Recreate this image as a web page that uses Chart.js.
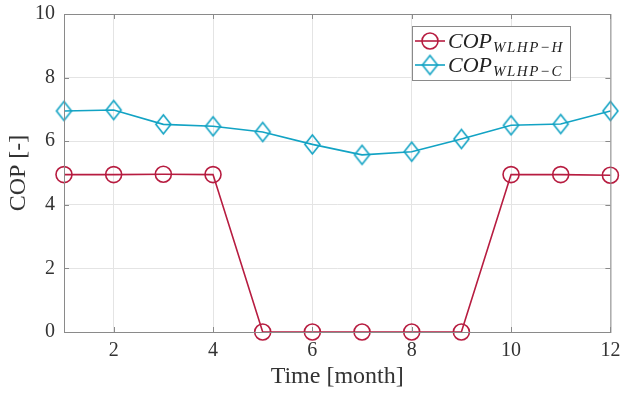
<!DOCTYPE html>
<html>
<head>
<meta charset="utf-8">
<script src="https://cdn.jsdelivr.net/npm/chart.js@4"></script>
<style>
  html, body { margin: 0; padding: 0; background: #fff; }
  #wrap { width: 621px; height: 393px; position: relative; }
</style>
</head>
<body>
<div id="wrap"><canvas id="copChart" width="621" height="393"></canvas></div>
<script>
// monthly COP of the water-loop heat pump, heating and cooling mode
const months = [1, 2, 3, 4, 5, 6, 7, 8, 9, 10, 11, 12];
const copHeating = [4.95, 4.95, 4.96, 4.95, 0, 0, 0, 0, 0, 4.95, 4.95, 4.93];
const copCooling = [6.95, 6.98, 6.53, 6.47, 6.29, 5.9, 5.57, 5.67, 6.07, 6.5, 6.54, 6.95];
const xTicks = [2, 4, 6, 8, 10, 12];
const yTicks = [0, 2, 4, 6, 8, 10];

const RED = '#b71c40';
const CYAN = '#12a3c4';
const SERIF = '"Liberation Serif", "DejaVu Serif", serif';

// matlab-style diamond, a bit taller than wide
function diamondMarker(w, h, color) {
  const c = document.createElement('canvas');
  c.width = w + 4; c.height = h + 4;
  const g = c.getContext('2d');
  const cx = c.width / 2, cy = c.height / 2;
  g.strokeStyle = color;
  g.lineWidth = 1.6;
  g.beginPath();
  g.moveTo(cx, cy - h / 2);
  g.lineTo(cx + w / 2, cy);
  g.lineTo(cx, cy + h / 2);
  g.lineTo(cx - w / 2, cy);
  g.closePath();
  g.stroke();
  return c;
}
const diamond = diamondMarker(15, 19, CYAN);

// box on + inward ticks on all four sides
const boxPlugin = {
  id: 'matlabBox',
  afterDatasetsDraw(chart) {
    const { ctx, chartArea: a, scales } = chart;
    ctx.save();
    ctx.strokeStyle = '#8a8a8a';
    ctx.lineWidth = 1;
    ctx.strokeRect(a.left + 0.5, a.top + 0.5, a.right - a.left, a.bottom - a.top);
    ctx.beginPath();
    xTicks.forEach(v => {
      const x = Math.round(scales.x.getPixelForValue(v)) + 0.5;
      ctx.moveTo(x, a.bottom); ctx.lineTo(x, a.bottom - 5);
      ctx.moveTo(x, a.top); ctx.lineTo(x, a.top + 5);
    });
    yTicks.forEach(v => {
      const y = Math.round(scales.y.getPixelForValue(v)) + 0.5;
      ctx.moveTo(a.left, y); ctx.lineTo(a.left + 5, y);
      ctx.moveTo(a.right, y); ctx.lineTo(a.right - 5, y);
    });
    ctx.stroke();
    ctx.restore();
  }
};

// legend with subscripted labels
const legendPlugin = {
  id: 'subLegend',
  afterDraw(chart) {
    const { ctx } = chart;
    const box = { x: 412, y: 26, w: 158, h: 54 };
    ctx.save();
    ctx.fillStyle = '#fff';
    ctx.fillRect(box.x, box.y, box.w, box.h);
    ctx.strokeStyle = '#8a8a8a';
    ctx.lineWidth = 1;
    ctx.strokeRect(box.x + 0.5, box.y + 0.5, box.w, box.h);

    const rows = [
      { y: 41, color: RED, sub: 'WLHP\u2212H', marker: 'circle' },
      { y: 65, color: CYAN, sub: 'WLHP\u2212C', marker: 'diamond' }
    ];
    rows.forEach(r => {
      ctx.strokeStyle = r.color;
      ctx.lineWidth = 1.6;
      ctx.beginPath();
      ctx.moveTo(415, r.y); ctx.lineTo(445, r.y);
      ctx.stroke();
      if (r.marker === 'circle') {
        ctx.beginPath();
        ctx.arc(430, r.y, 8, 0, Math.PI * 2);
        ctx.stroke();
      } else {
        ctx.drawImage(diamond, 430 - diamond.width / 2, r.y - diamond.height / 2);
      }
      ctx.fillStyle = '#222';
      ctx.textBaseline = 'alphabetic';
      ctx.font = 'italic 22px ' + SERIF;
      ctx.fillText('COP', 448, r.y + 7);
      const w = ctx.measureText('COP').width;
      ctx.font = 'italic 15px ' + SERIF;
      ctx.letterSpacing = '1.5px';
      ctx.fillText(r.sub, 448 + w + 1, r.y + 11);
      ctx.letterSpacing = '0px';
    });
    ctx.restore();
  }
};

new Chart(document.getElementById('copChart'), {
  type: 'line',
  data: {
    datasets: [
      {
        label: 'COP WLHP-H',
        data: months.map((m, i) => ({ x: m, y: copHeating[i] })),
        borderColor: RED,
        borderWidth: 1.6,
        pointStyle: 'circle',
        pointRadius: 8,
        pointBorderWidth: 1.6,
        pointBorderColor: RED,
        pointBackgroundColor: 'rgba(0,0,0,0)',
        tension: 0,
        clip: false
      },
      {
        label: 'COP WLHP-C',
        data: months.map((m, i) => ({ x: m, y: copCooling[i] })),
        borderColor: CYAN,
        borderWidth: 1.6,
        pointStyle: diamond,
        pointRadius: 9,
        tension: 0,
        clip: false
      }
    ]
  },
  options: {
    responsive: false,
    animation: false,
    layout: { padding: { left: 0, right: 8, top: 14, bottom: 0 } },
    plugins: {
      legend: { display: false },
      tooltip: { enabled: false }
    },
    scales: {
      x: {
        type: 'linear',
        min: 1,
        max: 12,
        afterBuildTicks: s => { s.ticks = xTicks.map(v => ({ value: v })); },
        afterFit: s => { s.height = 61; s.paddingLeft = 0; s.paddingRight = 0; },
        grid: { color: '#e4e4e4', drawTicks: false },
        border: { display: false },
        ticks: { color: '#333', padding: 7, font: { family: SERIF, size: 20 } },
        title: {
          display: true,
          text: 'Time [month]',
          color: '#333',
          padding: { top: 0, bottom: 2 },
          font: { family: SERIF, size: 24 }
        }
      },
      y: {
        min: 0,
        max: 10,
        afterBuildTicks: s => { s.ticks = yTicks.map(v => ({ value: v })); },
        afterFit: s => { s.width = 64; s.paddingTop = 0; s.paddingBottom = 0; },
        grid: { color: '#e4e4e4', drawTicks: false },
        border: { display: false },
        ticks: { color: '#333', padding: 9, font: { family: SERIF, size: 20 } },
        title: {
          display: true,
          text: 'COP [-]',
          color: '#333',
          padding: { top: 4, bottom: 0 },
          font: { family: SERIF, size: 24 }
        }
      }
    }
  },
  plugins: [boxPlugin, legendPlugin]
});
</script>
</body>
</html>
